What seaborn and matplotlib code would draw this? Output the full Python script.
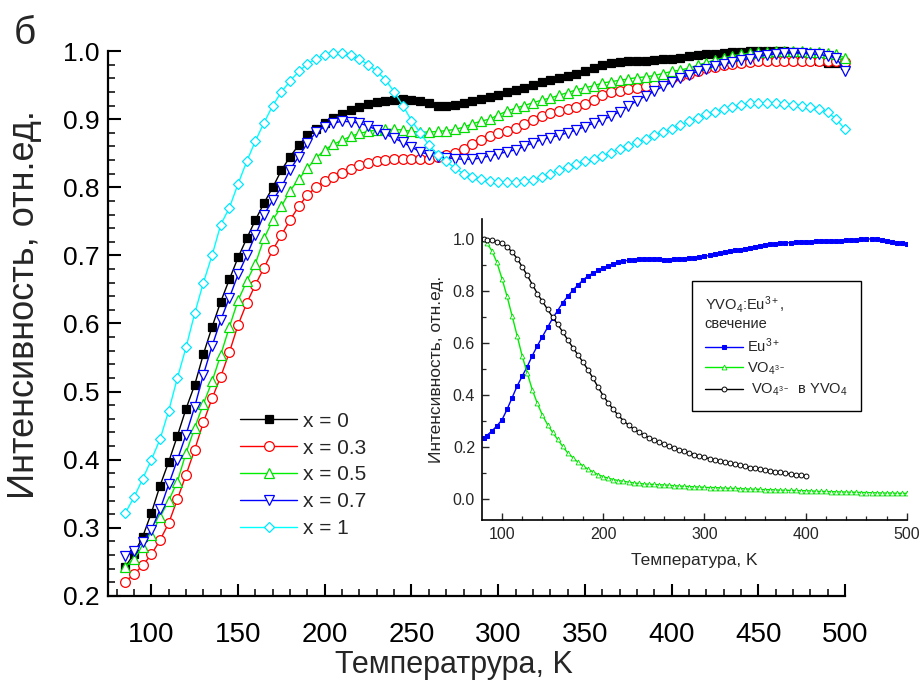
import numpy as np
import pandas as pd
import matplotlib
matplotlib.use("Agg")
import matplotlib.pyplot as plt
from matplotlib.ticker import MultipleLocator, FormatStrFormatter
import seaborn as sns

# ---------------- data ----------------
T_main = list(range(85, 505, 5))  # temperature grid, K

x0 = [0.243, 0.262, 0.287, 0.322, 0.362, 0.397, 0.435, 0.475, 0.51, 0.555,
      0.595, 0.632, 0.665, 0.697, 0.725, 0.752, 0.777, 0.80, 0.825, 0.845,
      0.862, 0.876, 0.886, 0.895, 0.902, 0.908, 0.914, 0.918, 0.922, 0.925,
      0.927, 0.928, 0.929, 0.928, 0.926, 0.923, 0.920, 0.919, 0.921, 0.924,
      0.927, 0.930, 0.932, 0.936, 0.94, 0.943, 0.946, 0.950, 0.954, 0.957,
      0.960, 0.963, 0.966, 0.970, 0.975, 0.980, 0.983, 0.984, 0.985, 0.985,
      0.986, 0.987, 0.988, 0.989, 0.990, 0.992, 0.994, 0.995, 0.996, 0.997,
      0.998, 0.999, 1.0, 1.0, 1.0, 1.0, 1.0, 0.999, 0.996, 0.99,
      0.985, 0.982, 0.982, 0.98]

x03 = [0.221, 0.232, 0.245, 0.261, 0.282, 0.307, 0.342, 0.378, 0.415, 0.455,
       0.49, 0.522, 0.558, 0.598, 0.63, 0.657, 0.682, 0.708, 0.73, 0.752,
       0.772, 0.789, 0.80, 0.809, 0.815, 0.821, 0.827, 0.832, 0.835, 0.838,
       0.840, 0.841, 0.841, 0.841, 0.841, 0.842, 0.844, 0.847, 0.85, 0.856,
       0.863, 0.870, 0.875, 0.879, 0.883, 0.887, 0.893, 0.899, 0.905, 0.909,
       0.912, 0.915, 0.918, 0.922, 0.928, 0.935, 0.94, 0.942, 0.944, 0.946,
       0.949, 0.953, 0.957, 0.961, 0.964, 0.967, 0.971, 0.975, 0.977, 0.979,
       0.981, 0.983, 0.984, 0.985, 0.985, 0.985, 0.985, 0.985, 0.985, 0.985,
       0.985, 0.985, 0.985, 0.984]

x05 = [0.243, 0.255, 0.272, 0.29, 0.316, 0.34, 0.368, 0.41, 0.447, 0.482,
       0.515, 0.554, 0.595, 0.634, 0.662, 0.688, 0.725, 0.752, 0.772, 0.795,
       0.812, 0.828, 0.843, 0.855, 0.863, 0.869, 0.875, 0.879, 0.882, 0.884,
       0.885, 0.885, 0.884, 0.882, 0.881, 0.881, 0.882, 0.883, 0.885, 0.888,
       0.893, 0.897, 0.900, 0.906, 0.912, 0.916, 0.920, 0.924, 0.928, 0.931,
       0.935, 0.939, 0.943, 0.946, 0.949, 0.953, 0.955, 0.957, 0.959, 0.961,
       0.962, 0.964, 0.967, 0.970, 0.972, 0.975, 0.979, 0.983, 0.987, 0.990,
       0.993, 0.995, 0.997, 0.998, 0.999, 1.0, 1.0, 1.0, 1.0, 0.999,
       0.998, 0.997, 0.995, 0.99]

x07 = [0.258, 0.266, 0.279, 0.297, 0.327, 0.364, 0.40, 0.437, 0.478, 0.525,
       0.567, 0.605, 0.638, 0.672, 0.70, 0.73, 0.76, 0.781, 0.80, 0.826,
       0.845, 0.865, 0.881, 0.889, 0.894, 0.897, 0.896, 0.894, 0.89, 0.884,
       0.878, 0.872, 0.866, 0.859, 0.852, 0.848, 0.845, 0.843, 0.842, 0.841,
       0.841, 0.843, 0.846, 0.849, 0.852, 0.855, 0.86, 0.865, 0.87, 0.873,
       0.876, 0.88, 0.884, 0.889, 0.894, 0.899, 0.904, 0.911, 0.919, 0.927,
       0.934, 0.941, 0.948, 0.954, 0.96, 0.965, 0.97, 0.974, 0.978, 0.981,
       0.984, 0.987, 0.989, 0.992, 0.994, 0.996, 0.997, 0.997, 0.997, 0.996,
       0.995, 0.993, 0.99, 0.97]

x1 = [0.322, 0.345, 0.372, 0.40, 0.43, 0.472, 0.52, 0.565, 0.615, 0.66,
      0.70, 0.745, 0.77, 0.805, 0.838, 0.868, 0.895, 0.92, 0.94, 0.956,
      0.970, 0.981, 0.989, 0.994, 0.997, 0.997, 0.994, 0.988, 0.98, 0.97,
      0.958, 0.94, 0.92, 0.898, 0.88, 0.862, 0.848, 0.838, 0.828, 0.82,
      0.815, 0.812, 0.809, 0.808, 0.807, 0.807, 0.809, 0.811, 0.815, 0.82,
      0.825, 0.83, 0.834, 0.838, 0.842, 0.846, 0.851, 0.856, 0.861, 0.866,
      0.871, 0.876, 0.881, 0.886, 0.891, 0.897, 0.902, 0.907, 0.911, 0.915,
      0.918, 0.921, 0.923, 0.924, 0.924, 0.923, 0.922, 0.921, 0.92, 0.918,
      0.915, 0.91, 0.90, 0.885]

series_labels = ["x = 0", "x = 0.3", "x = 0.5", "x = 0.7", "x = 1"]

# inset
T_ins = [82] + list(range(85, 505, 5))
eu = [0.236, 0.245, 0.262, 0.282, 0.305, 0.345, 0.39, 0.435, 0.473, 0.51, 0.552,
      0.59, 0.625, 0.66, 0.695, 0.725, 0.755, 0.78, 0.803, 0.823, 0.842,
      0.858, 0.869, 0.879, 0.887, 0.896, 0.904, 0.911, 0.915, 0.918, 0.921,
      0.922, 0.923, 0.923, 0.922, 0.922, 0.921, 0.921, 0.922, 0.923, 0.924,
      0.926, 0.928, 0.930, 0.933, 0.937, 0.941, 0.945, 0.949, 0.952, 0.956,
      0.959, 0.962, 0.966, 0.970, 0.974, 0.977, 0.980, 0.982, 0.984, 0.985,
      0.986, 0.988, 0.989, 0.990, 0.990, 0.991, 0.992, 0.992, 0.993, 0.993,
      0.994, 0.995, 0.997, 0.998, 0.999, 1.0, 1.0, 0.999, 0.997, 0.994,
      0.99, 0.986, 0.983, 0.981]
vo4 = [1.0, 0.985, 0.955, 0.91, 0.848, 0.78, 0.705, 0.628, 0.55, 0.485, 0.42,
       0.368, 0.323, 0.287, 0.257, 0.23, 0.203, 0.178, 0.16, 0.143, 0.128,
       0.116, 0.105, 0.095, 0.087, 0.081, 0.076, 0.072, 0.069, 0.066, 0.063,
       0.061, 0.059, 0.058, 0.057, 0.056, 0.055, 0.054, 0.052, 0.051, 0.050,
       0.049, 0.048, 0.047, 0.046, 0.045, 0.045, 0.044, 0.043, 0.042, 0.042,
       0.041, 0.040, 0.039, 0.039, 0.038, 0.037, 0.037, 0.036, 0.035, 0.035,
       0.034, 0.034, 0.033, 0.033, 0.032, 0.031, 0.030, 0.030, 0.029, 0.029,
       0.028, 0.028, 0.027, 0.027, 0.026, 0.026, 0.025, 0.025, 0.024, 0.024,
       0.024, 0.023, 0.023, 0.023]
T_ins_b = [82] + list(range(85, 405, 5))
vo4_yvo4 = [1.0, 0.998, 0.995, 0.99, 0.983, 0.97, 0.95, 0.925, 0.893, 0.86, 0.825,
            0.79, 0.76, 0.73, 0.70, 0.672, 0.643, 0.612, 0.583, 0.555, 0.527,
            0.497, 0.465, 0.43, 0.398, 0.37, 0.345, 0.322, 0.302, 0.285, 0.27,
            0.258, 0.247, 0.237, 0.227, 0.219, 0.211, 0.204, 0.197, 0.19, 0.184,
            0.178, 0.172, 0.166, 0.161, 0.156, 0.152, 0.148, 0.143, 0.139, 0.134,
            0.13, 0.126, 0.122, 0.119, 0.116, 0.112, 0.109, 0.106, 0.103, 0.100,
            0.097, 0.095, 0.093, 0.091]

# ---------------- style ----------------
sns.set_theme(style="ticks")
plt.rcParams["font.family"] = ["Liberation Sans", "DejaVu Sans"]
plt.rcParams["mathtext.fontset"] = "custom"
plt.rcParams["mathtext.rm"] = "Liberation Sans"
plt.rcParams["mathtext.it"] = "Liberation Sans:italic"
plt.rcParams["mathtext.bf"] = "Liberation Sans:bold"

fig = plt.figure(figsize=(9.21, 6.84), dpi=100)
fig.patch.set_facecolor("white")
ax = fig.add_axes([0.1173, 0.1287, 0.8002, 0.7967])
ax.set_facecolor("white")

main_df = pd.DataFrame({"T": T_main, "x = 0": x0, "x = 0.3": x03, "x = 0.5": x05,
                        "x = 0.7": x07, "x = 1": x1})

styles = [
    dict(color="#000000", marker="s", markersize=5.5, markerfacecolor="#000000", markeredgecolor="#000000"),
    dict(color="#ff0000", marker="o", markersize=7, markerfacecolor="white", markeredgecolor="#ff0000"),
    dict(color="#00ee00", marker="^", markersize=7.5, markerfacecolor="white", markeredgecolor="#00dd00"),
    dict(color="#0000ff", marker="v", markersize=7.5, markerfacecolor="white", markeredgecolor="#0000ff"),
    dict(color="#00ffff", marker="D", markersize=5.5, markerfacecolor="white", markeredgecolor="#00e5ff"),
]
for lab, st in zip(series_labels, styles):
    sns.lineplot(data=main_df, x="T", y=lab, ax=ax, label=lab, linewidth=1.0,
                 markeredgewidth=0.9, clip_on=False, **st)

ax.set_xlim(75, 500)
ax.set_ylim(0.2, 1.0)
ax.xaxis.set_major_locator(MultipleLocator(50))
ax.xaxis.set_minor_locator(MultipleLocator(10))
ax.yaxis.set_major_locator(MultipleLocator(0.1))
ax.yaxis.set_minor_locator(MultipleLocator(0.02))
ax.yaxis.set_major_formatter(FormatStrFormatter("%.1f"))
ax.tick_params(which="major", direction="in", length=9, width=1.5, colors="black",
               top=False, right=False)
ax.tick_params(which="minor", direction="in", length=5, width=1.3, top=False, right=False)
ax.tick_params(axis="y", labelsize=19, pad=6)
ax.tick_params(axis="x", labelsize=20, pad=19)
for s in ["top", "right"]:
    ax.spines[s].set_visible(False)
for s in ["left", "bottom"]:
    ax.spines[s].set_linewidth(1.6)
    ax.spines[s].set_color("black")

ax.set_xlabel("Температрура, K", fontsize=22)
ax.xaxis.set_label_coords(0.469, -0.1)
ax.set_ylabel("Интенсивность, отн.ед.", fontsize=26)
ax.yaxis.set_label_coords(-0.09, 0.534)

leg = ax.legend(loc="center", bbox_to_anchor=(0.265, 0.222), frameon=False,
                fontsize=15, handlelength=2.7, labelspacing=0.38, handletextpad=0.3,
                borderaxespad=0)

fig.text(0.015, 0.935, "б", fontsize=28)

# ---------------- inset ----------------
axi = fig.add_axes([0.5233, 0.2398, 0.4615, 0.4401])
axi.patch.set_alpha(0)
ins_df = pd.DataFrame({"T": T_ins, "eu": eu, "vo4": vo4})
ins_b = pd.DataFrame({"T": T_ins_b, "v": vo4_yvo4})
sns.lineplot(data=ins_df, x="T", y="eu", ax=axi, color="#0000ff", marker="s",
             markersize=3.2, markerfacecolor="#0000ff", markeredgecolor="#0000ff",
             linewidth=1.0, label="Eu$^{3+}$")
sns.lineplot(data=ins_df, x="T", y="vo4", ax=axi, color="#00ee00", marker="^",
             markersize=3.5, markerfacecolor="white", markeredgecolor="#00dd00",
             markeredgewidth=0.6, linewidth=1.0, label="VO$_{4^{3-}}$")
sns.lineplot(data=ins_b, x="T", y="v", ax=axi, color="#000000", marker="o",
             markersize=3.5, markerfacecolor="white", markeredgecolor="#000000",
             markeredgewidth=0.7, linewidth=1.0, label=" VO$_{4^{3-}}$  в YVO$_4$")

axi.set_xlim(80.25, 500)
axi.set_ylim(-0.0795, 1.077)
axi.xaxis.set_major_locator(MultipleLocator(100))
axi.xaxis.set_minor_locator(MultipleLocator(20))
axi.yaxis.set_major_locator(MultipleLocator(0.2))
axi.yaxis.set_minor_locator(MultipleLocator(0.1))
axi.yaxis.set_major_formatter(FormatStrFormatter("%.1f"))
axi.tick_params(which="major", direction="in", length=5, width=1.0, labelsize=11.5,
                top=False, right=False, pad=5)
axi.tick_params(which="minor", direction="in", length=3, width=0.9, top=False, right=False)
for s in ["top", "right"]:
    axi.spines[s].set_visible(False)
for s in ["left", "bottom"]:
    axi.spines[s].set_linewidth(1.2)
    axi.spines[s].set_color("black")
axi.set_xlabel("Температура, K", fontsize=12.5, labelpad=8)
axi.set_ylabel("Интенсивность, отн.ед.", fontsize=12.5, labelpad=6)

li = axi.legend(loc="upper left", bbox_to_anchor=(0.476, 0.818),
                title="YVO$_4$:Eu$^{3+}$,\nсвечение", title_fontsize=10.5,
                fontsize=10.5, frameon=True, fancybox=False, edgecolor="black",
                framealpha=1, handlelength=2.6, alignment="left",
                borderpad=0.9, labelspacing=0.35, handletextpad=0.3)
li.get_frame().set_linewidth(1.0)

fig.savefig("out.png", dpi=100)
